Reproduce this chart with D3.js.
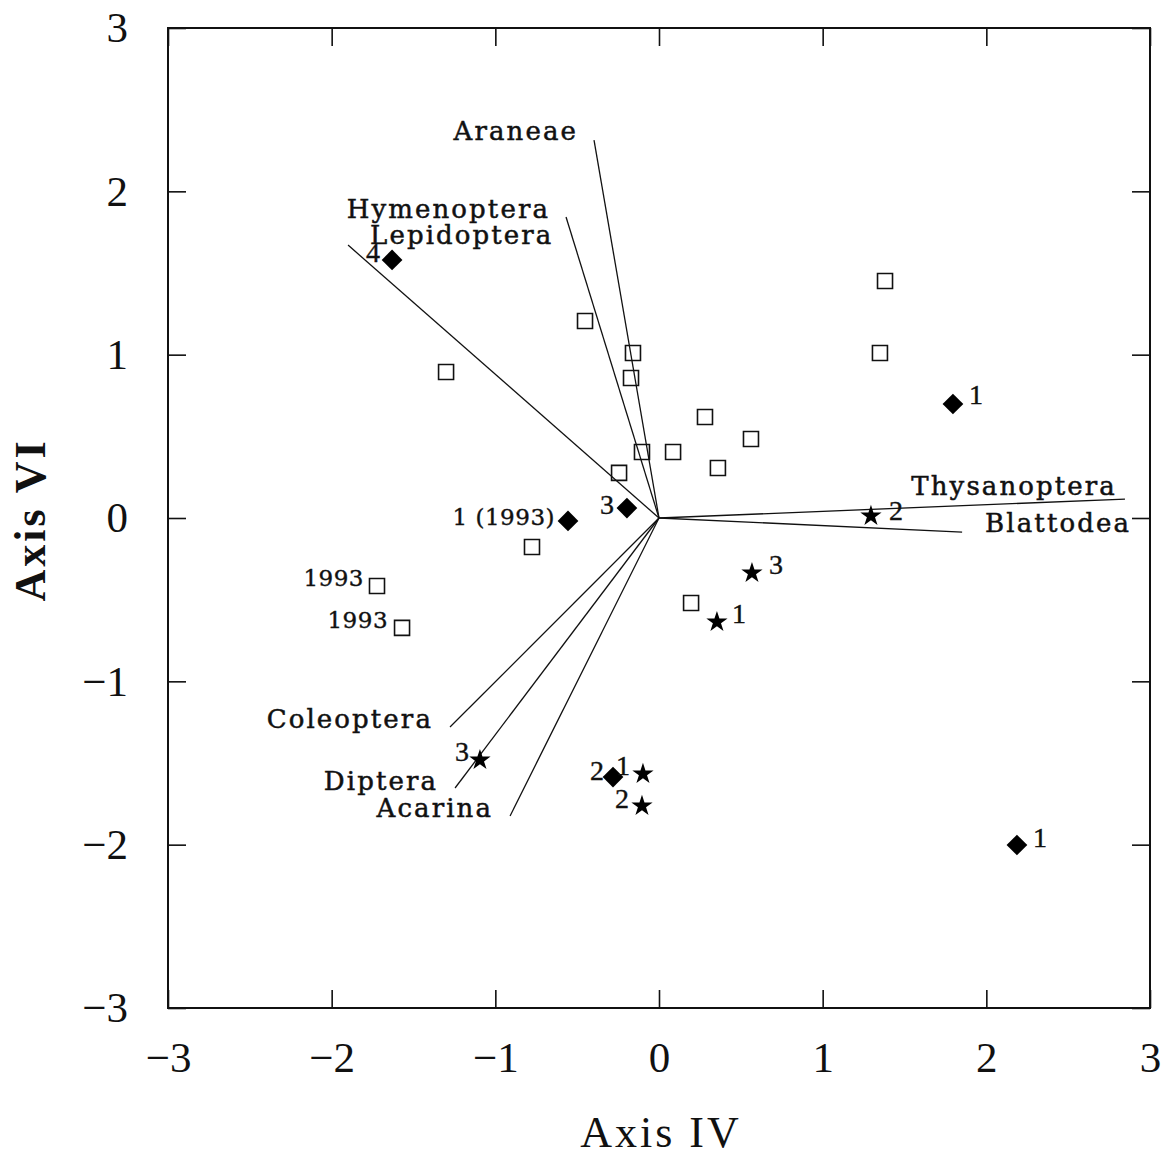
<!DOCTYPE html>
<html>
<head>
<meta charset="utf-8">
<script src="https://cdn.jsdelivr.net/npm/d3@7"></script>
<style>
  body { margin: 0; background: #fff; }
  svg { display: block; }
</style>
</head>
<body>
<script>
// ---- Axis ticks ----
const xTicks = [-3, -2, -1, 0, 1, 2, 3];
const yTicks = [-3, -2, -1, 0, 1, 2, 3];

// ---- Taxon vectors (Axis IV, Axis VI loadings) ----
const taxa     = ["Araneae", "Hymenoptera", "Lepidoptera", "Coleoptera", "Diptera", "Acarina", "Thysanoptera", "Blattodea"];
const taxaIV   = [-0.397, -0.568, -1.900, -1.277, -1.246, -0.910, 2.847, 1.852];
const taxaVI   = [ 2.314,  1.843,  1.671, -1.280, -1.653, -1.824, 0.116, -0.086];

// ---- Site scores: open squares ----
const squareIV    = [1.381, 1.350, -0.452, -0.159, -0.171, -1.301, 0.281, 0.562, -0.104, 0.086, 0.360, -0.244, -0.776, -1.723, -1.570, 0.196];
const squareVI    = [1.451, 1.010,  1.206,  1.010,  0.857,  0.894, 0.618, 0.484,  0.404, 0.404, 0.306,  0.276, -0.178, -0.416, -0.673, -0.520];
const squareLabel = ["", "", "", "", "", "", "", "", "", "", "", "", "", "1993", "1993", ""];

// ---- Site scores: filled diamonds ----
const diamondIV    = [-1.631, 1.796, -0.556, -0.196, -0.281, 2.187];
const diamondVI    = [ 1.580, 0.698, -0.018,  0.061, -1.586, -2.002];
const diamondLabel = ["4", "1", "1 (1993)", "3", "2", "1"];

// ---- Site scores: stars ----
const starIV    = [1.295, 0.568, 0.354, -1.094, -0.098, -0.104];
const starVI    = [0.012, -0.337, -0.637, -1.482, -1.567, -1.763];
const starLabel = ["2", "3", "1", "3", "1", "2"];

// ---- Label placement (pixel offsets from the mark, text anchor) ----
const taxonLabelPos = [
  [-16, 0, "end"], [-16, 1, "end"], [22, -1, "start"], [-17, 1, "end"],
  [-17, 2, "end"], [-17, 1, "end"], [-8, -4, "end"], [23, 0, "start"]
];
const squareLabelPos  = { 13: [-13, -8, "end"], 14: [-14, -8, "end"] };
const diamondLabelPos = [[-19, -7, "middle"], [23, -9, "middle"], [-13, -4, "end"], [-20, -4, "middle"], [-16, -7, "middle"], [23, -7, "middle"]];
const starLabelPos    = [[25, -6, "middle"], [24, -9, "middle"], [22, -9, "middle"], [-18, -9, "middle"], [-20, -8, "middle"], [-20, -7, "middle"]];

const W = 1162, H = 1160;
const plotL = 168, plotR = 1150, plotT = 28, plotB = 1008;

const x = d3.scaleLinear().domain([-3, 3]).range([plotL, plotR]);
const y = d3.scaleLinear().domain([-3, 3]).range([plotB, plotT]);

const svg = d3.select("body").append("svg")
  .attr("width", W).attr("height", H)
  .attr("viewBox", `0 0 ${W} ${H}`);

const serif = "'Liberation Serif', 'Times New Roman', serif";
const labelFont = "'DejaVu Serif', serif";
const fmt = d3.format("d");

// ---- Axes with inward ticks on all four sides ----
const tickLen = 18;
const axB = svg.append("g").attr("transform", `translate(0,${plotB})`)
  .call(d3.axisBottom(x).tickValues(xTicks).tickFormat(fmt).tickSize(-tickLen).tickSizeOuter(0).tickPadding(33));
const axL = svg.append("g").attr("transform", `translate(${plotL},0)`)
  .call(d3.axisLeft(y).tickValues(yTicks).tickFormat(fmt).tickSize(-tickLen).tickSizeOuter(0).tickPadding(40));
const axT = svg.append("g").attr("transform", `translate(0,${plotT})`)
  .call(d3.axisTop(x).tickValues(xTicks).tickSize(-tickLen).tickSizeOuter(0).tickFormat(""));
const axR = svg.append("g").attr("transform", `translate(${plotR},0)`)
  .call(d3.axisRight(y).tickValues(yTicks).tickSize(-tickLen).tickSizeOuter(0).tickFormat(""));

[axB, axL, axT, axR].forEach(a => {
  a.select(".domain").remove();
  a.selectAll(".tick line").attr("stroke", "#111").attr("stroke-width", 1.6);
  a.selectAll(".tick text")
    .attr("fill", "#111")
    .style("font-family", serif)
    .style("font-size", "43px");
});

// frame
svg.append("rect")
  .attr("x", plotL).attr("y", plotT)
  .attr("width", plotR - plotL).attr("height", plotB - plotT)
  .attr("fill", "none").attr("stroke", "#111").attr("stroke-width", 2);

// axis titles
svg.append("text")
  .attr("x", 661).attr("y", 1147)
  .attr("text-anchor", "middle")
  .style("font-family", serif).style("font-size", "44px").style("letter-spacing", "3px")
  .attr("fill", "#111")
  .text("Axis IV");

svg.append("text")
  .attr("transform", `translate(45,${(plotT + plotB) / 2 + 2}) rotate(-90)`)
  .attr("text-anchor", "middle")
  .style("font-family", serif).style("font-size", "44px").style("letter-spacing", "3px")
  .style("font-weight", "bold")
  .attr("fill", "#111")
  .text("Axis VI");

// ---- Taxon vectors ----
const taxonData = taxa.map((t, i) => ({ name: t, iv: taxaIV[i], vi: taxaVI[i], pos: taxonLabelPos[i] }));

svg.append("g").selectAll("line").data(taxonData).join("line")
  .attr("x1", x(0)).attr("y1", y(0))
  .attr("x2", d => x(d.iv)).attr("y2", d => y(d.vi))
  .attr("stroke", "#111").attr("stroke-width", 1.3);

svg.append("g").selectAll("text").data(taxonData).join("text")
  .attr("x", d => x(d.iv) + d.pos[0])
  .attr("y", d => y(d.vi) + d.pos[1])
  .attr("text-anchor", d => d.pos[2])
  .style("font-family", labelFont).style("font-size", "26px").style("letter-spacing", "2.1px")
  .attr("fill", "#111").attr("stroke", "#111").attr("stroke-width", 0.5)
  .text(d => d.name);

// ---- Site markers ----
const squareData  = squareIV.map((v, i) => ({ iv: v, vi: squareVI[i], label: squareLabel[i], pos: squareLabelPos[i] }));
const diamondData = diamondIV.map((v, i) => ({ iv: v, vi: diamondVI[i], label: diamondLabel[i], pos: diamondLabelPos[i] }));
const starData    = starIV.map((v, i) => ({ iv: v, vi: starVI[i], label: starLabel[i], pos: starLabelPos[i] }));

const squareSym  = d3.symbol().type(d3.symbolSquare).size(225);
const diamondSym = d3.symbol().type(d3.symbolSquare).size(215);
const starSym    = d3.symbol().type(d3.symbolStar).size(140);

svg.append("g").selectAll("path").data(squareData).join("path")
  .attr("d", squareSym)
  .attr("transform", d => `translate(${x(d.iv)},${y(d.vi)})`)
  .attr("fill", "none").attr("stroke", "#111").attr("stroke-width", 1.6);

svg.append("g").selectAll("path").data(diamondData).join("path")
  .attr("d", diamondSym)
  .attr("transform", d => `translate(${x(d.iv)},${y(d.vi)}) rotate(45)`)
  .attr("fill", "#000");

svg.append("g").selectAll("path").data(starData).join("path")
  .attr("d", starSym)
  .attr("transform", d => `translate(${x(d.iv)},${y(d.vi)})`)
  .attr("fill", "#000");

// ---- Point labels ----
function pointLabels(data) {
  svg.append("g").selectAll("text").data(data.filter(d => d.label)).join("text")
    .attr("x", d => x(d.iv) + d.pos[0])
    .attr("y", d => y(d.vi) + d.pos[1])
    .attr("text-anchor", d => d.pos[2])
    .attr("dominant-baseline", "central")
    .style("font-family", d => d.label.length > 1 ? labelFont : serif)
    .style("font-size", d => d.label.length > 1 ? "23px" : "28px")
    .style("letter-spacing", d => d.label.length > 1 ? "0.5px" : "0px")
    .attr("fill", "#111").attr("stroke", "#111").attr("stroke-width", 0.4)
    .text(d => d.label);
}
pointLabels(squareData);
pointLabels(diamondData);
pointLabels(starData);
</script>
</body>
</html>
